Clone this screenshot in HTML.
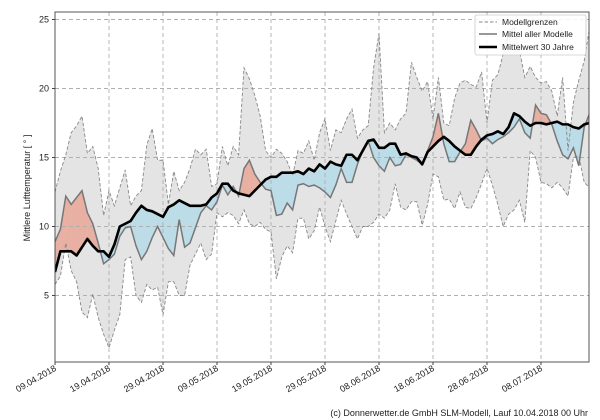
<!DOCTYPE html>
<html><head><meta charset="utf-8"><style>
body{margin:0;background:#fff;}
svg{display:block;font-family:"Liberation Sans","DejaVu Sans",sans-serif;}
</style></head><body>
<svg id="s" width="600" height="420" xmlns="http://www.w3.org/2000/svg"></svg>
<script>
const clim=[6.7,8.2,8.2,8.2,7.9,8.5,9.1,8.6,8.2,8.2,7.8,8.7,10.0,10.2,10.4,11.0,11.5,11.2,11.1,10.9,10.7,11.4,11.6,11.9,11.7,11.5,11.5,11.5,11.6,12.1,12.4,13.1,13.1,12.6,12.4,12.3,12.2,12.6,13.0,13.4,13.6,13.6,13.9,13.9,13.9,14.0,13.8,14.2,14.0,14.5,14.2,14.7,14.5,14.4,15.2,15.2,14.8,15.5,16.2,16.3,15.7,15.7,16.0,16.0,15.2,15.3,15.1,15.0,14.5,15.4,15.8,16.2,16.5,16.2,15.8,15.5,15.2,15.2,15.8,16.3,16.6,16.7,16.9,16.7,17.2,18.2,18.0,17.6,17.3,17.5,17.5,17.4,17.5,17.6,17.4,17.4,17.2,17.1,17.4,17.5];
const mod=[8.9,9.8,12.2,11.6,12.1,12.6,11.0,10.2,8.8,7.3,7.6,8.0,9.3,9.9,10.0,8.6,7.6,8.2,9.2,10.0,9.2,8.4,7.9,10.5,8.5,8.8,9.9,11.0,11.5,11.2,11.8,13.0,12.3,12.9,12.2,14.2,14.8,13.8,13.2,12.7,12.6,10.8,10.9,11.7,11.2,13.0,13.1,12.9,13.0,12.8,12.5,12.1,13.0,14.2,13.2,13.2,14.5,15.5,16.2,15.0,14.4,14.0,15.0,14.4,14.5,15.2,15.0,14.8,14.5,15.5,16.5,18.2,16.0,14.7,14.7,15.4,16.0,17.7,17.0,16.2,16.4,16.0,16.3,16.5,16.8,17.2,17.8,16.8,16.4,18.8,18.2,18.1,17.4,16.2,15.2,14.9,15.7,14.4,17.2,18.2];
const up=[12.5,14.0,15.2,16.8,17.3,18.0,15.3,15.8,14.2,10.8,12.6,11.5,12.8,14.1,11.5,12.2,12.6,15.9,17.1,14.8,14.8,11.6,14.0,12.6,13.2,14.2,15.6,15.2,15.6,12.9,13.1,15.8,14.4,15.8,15.2,21.5,20.7,19.5,18.0,15.5,15.0,15.6,15.3,14.7,13.7,15.5,15.3,16.2,14.8,16.8,17.8,15.5,17.0,16.8,17.8,18.5,16.4,17.0,17.3,21.5,24.0,16.8,17.5,17.0,17.8,18.2,21.9,20.8,19.8,20.5,17.8,20.8,17.5,17.3,19.3,20.4,20.6,20.3,20.1,21.2,17.5,20.6,21.0,22.5,24.0,24.5,22.8,20.8,21.6,20.8,20.4,20.5,19.8,18.0,20.8,15.5,19.0,20.6,22.0,24.4];
const lo=[5.8,6.4,8.8,6.8,6.0,3.8,3.4,5.1,3.4,2.2,1.2,2.5,3.6,7.6,7.8,5.0,4.5,5.8,5.4,5.6,3.6,6.0,6.0,5.0,5.0,7.2,8.0,8.8,7.6,8.0,11.0,10.7,11.0,10.8,10.2,11.2,10.2,10.0,10.3,9.8,9.6,6.2,7.8,8.6,8.1,10.6,10.6,9.1,9.7,11.4,10.0,8.9,10.4,11.9,10.9,10.0,9.1,10.0,10.0,10.3,10.9,10.6,11.2,13.1,11.4,11.2,11.8,11.8,10.1,11.6,13.8,13.6,11.9,12.0,11.3,12.5,11.4,11.3,12.1,13.1,14.2,13.0,11.6,10.0,10.9,11.2,11.9,10.3,15.5,15.0,13.2,13.1,12.8,13.2,12.8,12.2,15.0,15.1,13.2,12.8];
const X=d=>55+5.4*d, Y=t=>364.5-13.8*t;
const L=55,R=589,T=12,B=362;
let h=`<defs><clipPath id="c"><rect x="${L}" y="${T}" width="${R-L}" height="${B-T}"/></clipPath></defs>`;
h+=`<g clip-path="url(#c)">`;
// band
let p=up.map((v,i)=>X(i)+','+Y(v)).join(' ')+' '+lo.map((v,i)=>X(i)+','+Y(v)).reverse().join(' ');
h+=`<polygon points="${p}" fill="#e4e4e4"/>`;
// red/blue fills
for(let i=0;i<mod.length-1;i++){
 const a0=mod[i]-clim[i], a1=mod[i+1]-clim[i+1];
 const seg=(d0,d1,c)=>{ // between fractional days
  const f=(arr,d)=>{const k=Math.floor(d),r=d-k;return k+1<arr.length?arr[k]+(arr[k+1]-arr[k])*r:arr[k];};
  const pts=[[d0,f(mod,d0)],[d1,f(mod,d1)],[d1,f(clim,d1)],[d0,f(clim,d0)]];
  h+=`<polygon points="${pts.map(q=>X(q[0])+','+Y(q[1])).join(' ')}" fill="${c}" stroke="${c}" stroke-width="0.3"/>`;
 };
 const col=v=>v>=0?'#e8b0a2':'#bcdce8';
 if(a0*a1<0){const t=a0/(a0-a1);seg(i,i+t,col(a0));seg(i+t,i+1,col(a1));}
 else seg(i,i+1,col(a0+a1));
}
// grid
for(let t=5;t<=25;t+=5)h+=`<line x1="${L}" x2="${R}" y1="${Y(t)}" y2="${Y(t)}" stroke="#b0b0b0" stroke-dasharray="4,3" stroke-width="0.9"/>`;
for(let k=1;k<=9;k++)h+=`<line x1="${X(10*k)}" x2="${X(10*k)}" y1="${T}" y2="${B}" stroke="#b0b0b0" stroke-dasharray="4,3" stroke-width="0.9"/>`;
const pl=(arr,st)=>`<polyline points="${arr.map((v,i)=>X(i)+','+Y(v)).join(' ')}" fill="none" ${st}/>`;
h+=pl(up,'stroke="#888" stroke-width="0.9" stroke-dasharray="3.5,2"');
h+=pl(lo,'stroke="#888" stroke-width="0.9" stroke-dasharray="3.5,2"');
h+=pl(mod,'stroke="#777" stroke-width="1.5"');
h+=pl(clim,'stroke="#000" stroke-width="2.6" stroke-linejoin="round"');
h+=`</g>`;
h+=`<rect x="${L}" y="${T}" width="${R-L}" height="${B-T}" fill="none" stroke="#444" stroke-width="0.9"/>`;
for(let t=5;t<=25;t+=5){h+=`<line x1="${L-3}" x2="${L}" y1="${Y(t)}" y2="${Y(t)}" stroke="#444"/><text x="${L-6}" y="${Y(t)+3}" font-size="9" text-anchor="end" fill="#222">${t}</text>`;}
const dl=['09.04.2018','19.04.2018','29.04.2018','09.05.2018','19.05.2018','29.05.2018','08.06.2018','18.06.2018','28.06.2018','08.07.2018'];
dl.forEach((s,k)=>{const x=X(10*k);h+=`<line x1="${x}" x2="${x}" y1="${B}" y2="${B+3}" stroke="#444"/><text transform="translate(${x+2},${B+8}) rotate(-30)" font-size="9" text-anchor="end" fill="#222">${s}</text>`;});
h+=`<text transform="translate(30,188) rotate(-90)" font-size="9" text-anchor="middle" fill="#222">Mittlere Lufttemperatur [ ° ]</text>`;
// legend
h+=`<rect x="475" y="15" width="111" height="40" fill="#fff" fill-opacity="0.85" stroke="#ccc" stroke-width="0.8" rx="2"/>`;
h+=`<line x1="479" x2="497" y1="22" y2="22" stroke="#888" stroke-dasharray="3.5,2"/><text x="502" y="25" font-size="8.5" fill="#222">Modellgrenzen</text>`;
h+=`<line x1="479" x2="497" y1="34" y2="34" stroke="#777" stroke-width="1.5"/><text x="502" y="37" font-size="8.5" fill="#222">Mittel aller Modelle</text>`;
h+=`<line x1="479" x2="497" y1="47" y2="47" stroke="#000" stroke-width="2.6"/><text x="502" y="50" font-size="8.5" fill="#222">Mittelwert 30 Jahre</text>`;
h+=`<text x="588" y="416" font-size="9" text-anchor="end" fill="#222">(c) Donnerwetter.de GmbH SLM-Modell, Lauf 10.04.2018 00 Uhr</text>`;
document.getElementById('s').innerHTML=h;
</script>
</body></html>
